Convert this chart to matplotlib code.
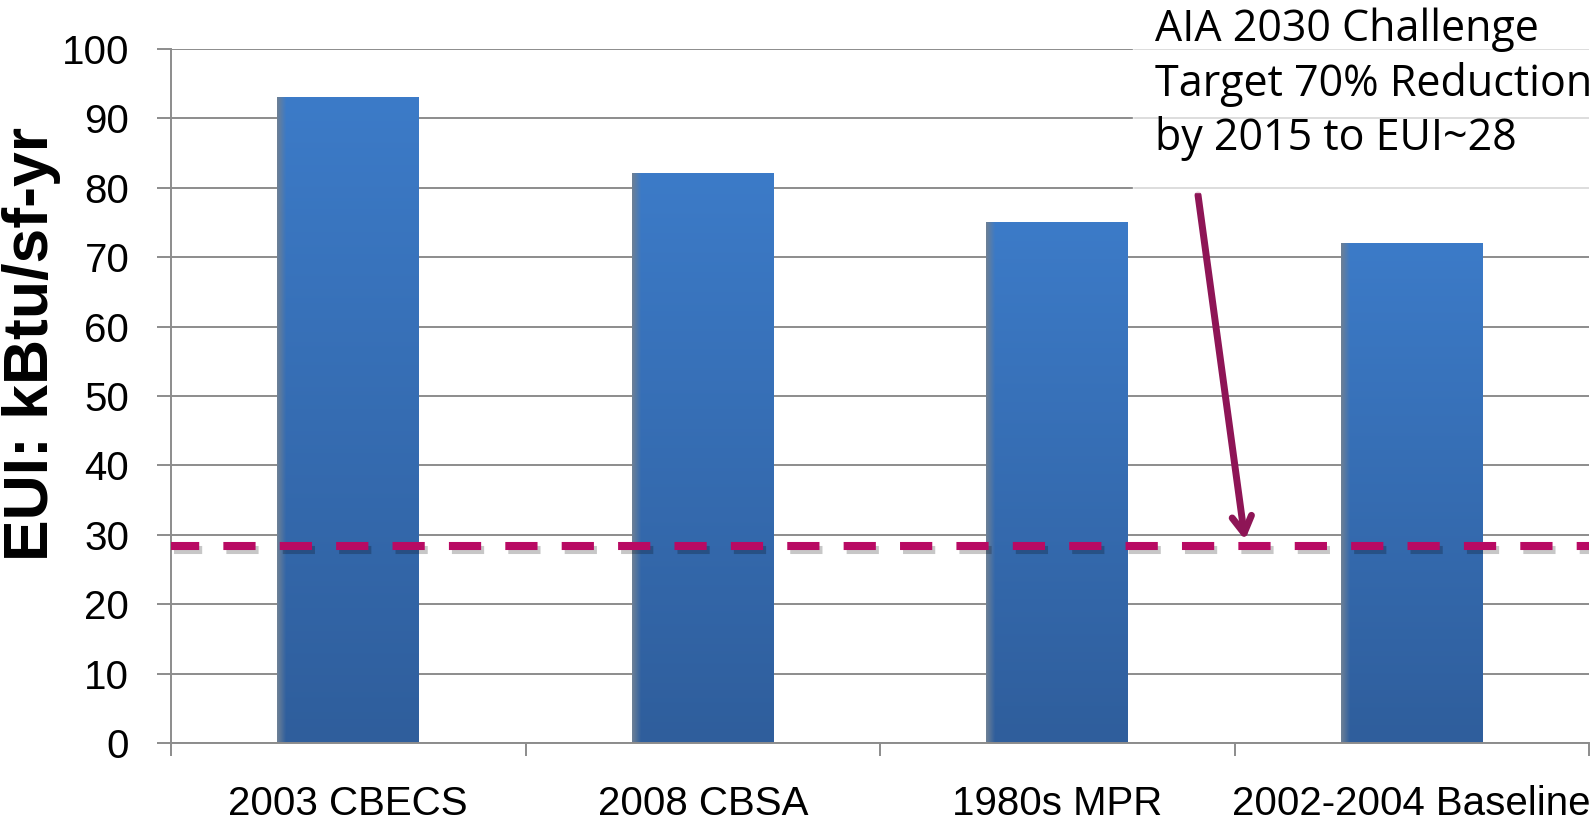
import numpy as np
import matplotlib
matplotlib.use("Agg")
import matplotlib.pyplot as plt
import matplotlib.patheffects as pe
from matplotlib.colors import to_rgb

categories = ["2003 CBECS", "2008 CBSA", "1980s MPR", "2002-2004 Baseline"]
eui = [93, 82, 75, 72]
target = 28.4
yticks = list(range(0, 101, 10))
note = "AIA 2030 Challenge\nTarget 70% Reduction\nby 2015 to EUI~28"

W, H = 1595, 822
GRID = "#8c8c8c"
TOP = to_rgb("#3c7bc8")
BOT = to_rgb("#2f5e9c")
EDGE = to_rgb("#6b7f96")

plt.rcParams["font.family"] = ["Liberation Sans", "DejaVu Sans"]
fig = plt.figure(figsize=(W / 100, H / 100), dpi=100)
ax = fig.add_axes([171 / W, 1 - 743 / H, 1418 / W, 694 / H])

x = np.arange(len(categories))
bars = ax.bar(x, eui, width=0.4, color=TOP, zorder=2)

# gradient fill on each bar (dark bottom, lighter top, shaded left edge)
for b in bars:
    x0, w, h = b.get_x(), b.get_width(), b.get_height()
    ny, nx = 200, 100
    t = np.linspace(0, 1, ny)[:, None, None]
    col = np.array(BOT) * (1 - t) + np.array(TOP) * t
    col = np.repeat(col, nx, axis=1)
    s = np.clip(np.linspace(0, 1, nx) / 0.06, 0, 1)[None, :, None]
    col = np.array(EDGE) * (1 - s) + col * s
    ax.imshow(col, extent=(x0, x0 + w, 0, h), origin="lower", aspect="auto",
              interpolation="bilinear", zorder=2.1)

ax.axhline(target, color="#b80a63", lw=5.8, ls=(0.5, (4.0, 3.0)), zorder=4,
           path_effects=[pe.SimpleLineShadow(offset=(2.5, -3), shadow_color="k", alpha=0.22),
                         pe.Normal()])

ax.set_xlim(-0.5, len(categories) - 0.5)
ax.set_ylim(0, 100)
ax.set_yticks(yticks)
ax.set_xticks(x)
ax.set_xticklabels(categories)
ax.set_xticks(np.arange(len(categories) + 1) - 0.5, minor=True)
ax.tick_params(axis="x", which="major", length=0, labelsize=29, pad=30)
ax.tick_params(axis="x", which="minor", length=9.5, width=1.4, color=GRID)
ax.tick_params(axis="y", length=10, width=1.4, color=GRID, labelsize=29, pad=20)
ax.grid(axis="y", color=GRID, lw=1.4)
ax.set_axisbelow(True)
for side in ["top", "right"]:
    ax.spines[side].set_visible(False)
for side in ["left", "bottom"]:
    ax.spines[side].set_color(GRID)
    ax.spines[side].set_linewidth(1.4)

fig.text(32 / W, 1 - 344 / H, "EUI: kBtu/sf-yr", rotation=90, ha="center", va="center",
         fontsize=45, fontweight="bold")

# faded box behind the note
fig.patches.append(plt.Rectangle((1133 / W, 1 - 192 / H), (W - 1133) / W, 192 / H,
                                 transform=fig.transFigure, color="white", alpha=0.7,
                                 zorder=1))
fig.text(1155 / W, 1 - 8 / H, note, ha="left", va="top", fontsize=31,
         family=["Open Sans", "DejaVu Sans"], linespacing=1.27, zorder=3)

ax.annotate("", xy=(1245 / W, 1 - 540 / H), xytext=(1198 / W, 1 - 195 / H),
            xycoords="figure fraction", textcoords="figure fraction",
            arrowprops=dict(arrowstyle="->,head_length=1.2,head_width=0.7",
                            color="#8e1556", lw=5, shrinkA=0, shrinkB=0),
            zorder=5)

fig.savefig("out.png", dpi=100)
